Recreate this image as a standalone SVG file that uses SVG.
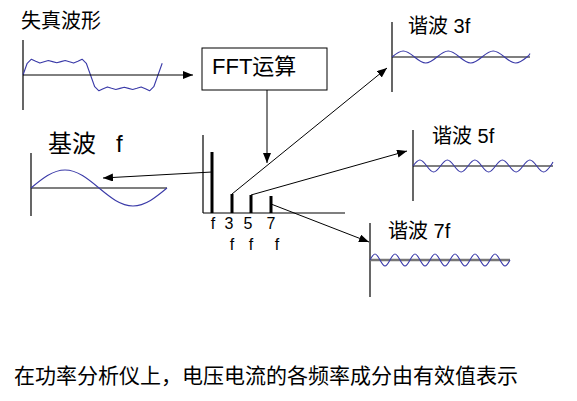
<svg xmlns="http://www.w3.org/2000/svg" width="577" height="401" viewBox="0 0 577 401">
<style>
text{font-family:"Liberation Sans","Noto Sans CJK SC",sans-serif;fill:#000}
.ax{stroke:#000;stroke-width:1.2;fill:none}
.wave{stroke:#3a3aa8;stroke-width:1.1;fill:none;stroke-linejoin:round}
.con{stroke:#000;stroke-width:1;fill:none;marker-end:url(#ah)}
.bar{stroke:#000;stroke-width:3}
</style>
<defs>
<marker id="ah" markerUnits="userSpaceOnUse" markerWidth="11" markerHeight="9" refX="10" refY="4" orient="auto">
<path d="M0,0 L10,4 L0,8 z" fill="#000"/>
</marker>
</defs>
<rect width="577" height="401" fill="#fff"/>

<g id="distorted">
<text x="21" y="28" font-size="20">失真波形</text>
<line class="ax" x1="23" y1="40" x2="23" y2="110"/>
<polyline class="wave" points="23,75 27.2,63.3 31.4,59.2 35.7,61.3 39.9,63.1 44.1,61.7 48.3,60.5 52.5,61.6 56.8,62.7 61,61.6 65.2,60.5 69.4,61.7 73.6,63.1 77.9,61.3 82.1,59.2 86.3,63.3 90.5,75 94.7,86.7 98.9,90.8 103.2,88.7 107.4,86.9 111.6,88.3 115.8,89.5 120,88.4 124.3,87.3 128.5,88.4 132.7,89.5 136.9,88.3 141.1,86.9 145.4,88.7 149.6,90.8 153.8,86.7 158,75 162.2,63.3"/>
</g>

<g id="fft">
<rect x="202" y="48" width="125" height="42" fill="#fff" stroke="#000" stroke-width="1"/>
<text x="212" y="74" font-size="22">FFT运算</text>
</g>

<g id="spectrum">
<line class="ax" x1="203" y1="135" x2="203" y2="213"/>
<line class="ax" x1="203" y1="213" x2="345" y2="213"/>
<line class="bar" x1="212" y1="152" x2="212" y2="213"/>
<line class="bar" x1="232" y1="194" x2="232" y2="213"/>
<line class="bar" x1="251" y1="195" x2="251" y2="213"/>
<line class="bar" x1="271" y1="196" x2="271" y2="213"/>
<g font-size="16" text-anchor="middle">
<text x="213" y="229">f</text>
<text x="229" y="229">3</text>
<text x="248" y="229">5</text>
<text x="271" y="229">7</text>
<text x="232" y="250">f</text>
<text x="251" y="250">f</text>
<text x="277" y="250">f</text>
</g>
</g>

<g id="fundamental">
<text x="48" y="152" font-size="24">基波<tspan x="116">f</tspan></text>
<line class="ax" x1="31" y1="153" x2="31" y2="216"/>
<line class="ax" x1="31" y1="188" x2="167" y2="188"/>
<path class="wave" d="M31,188 c11.09,-9.22 21.7,-18 34,-18 s22.91,8.78 34,18 s21.7,18 34,18 s22.91,-8.78 34,-18"/>
</g>

<g id="h3">
<text x="408" y="33" font-size="20">谐波 3f</text>
<line class="ax" x1="392" y1="22" x2="392" y2="92"/>
<line class="ax" x1="392" y1="57" x2="530" y2="57"/>
<path class="wave" d="M392,57 c3.67,-3.07 7.18,-6 11.25,-6 s7.58,2.93 11.25,6 s7.18,6 11.25,6 s7.58,-2.93 11.25,-6 s7.18,-6 11.25,-6 s7.58,2.93 11.25,6 s7.18,6 11.25,6 s7.58,-2.93 11.25,-6 s7.18,-6 11.25,-6 s7.58,2.93 11.25,6 s7.18,6 11.25,6 s7.58,-2.93 11.25,-6 s2.2,-2.4 3,-3.5"/>
</g>

<g id="h5">
<text x="432" y="143" font-size="20">谐波 5f</text>
<line class="ax" x1="413" y1="130" x2="413" y2="201"/>
<line class="ax" x1="413" y1="166" x2="553" y2="166"/>
<path class="wave" d="M413,166 c2.24,-3.07 4.39,-6 6.875,-6 s4.63,2.93 6.875,6 s4.39,6 6.875,6 s4.63,-2.93 6.875,-6 s4.39,-6 6.875,-6 s4.63,2.93 6.875,6 s4.39,6 6.875,6 s4.63,-2.93 6.875,-6 s4.39,-6 6.875,-6 s4.63,2.93 6.875,6 s4.39,6 6.875,6 s4.63,-2.93 6.875,-6 s4.39,-6 6.875,-6 s4.63,2.93 6.875,6 s4.39,6 6.875,6 s4.63,-2.93 6.875,-6 s4.39,-6 6.875,-6 s4.63,2.93 6.875,6 s4.39,6 6.875,6 s4.63,-2.93 6.875,-6 s1.6,-2.6 2.5,-4"/>
</g>

<g id="h7">
<text x="388" y="238" font-size="20">谐波 7f</text>
<line class="ax" x1="370" y1="223" x2="370" y2="297"/>
<line x1="370" y1="260" x2="510" y2="260" stroke="#777" stroke-width="2.5"/>
<path class="wave" d="M370,260 c1.63,-3.07 3.19,-6 5,-6 s3.37,2.93 5,6 s3.19,6 5,6 s3.37,-2.93 5,-6 s3.19,-6 5,-6 s3.37,2.93 5,6 s3.19,6 5,6 s3.37,-2.93 5,-6 s3.19,-6 5,-6 s3.37,2.93 5,6 s3.19,6 5,6 s3.37,-2.93 5,-6 s3.19,-6 5,-6 s3.37,2.93 5,6 s3.19,6 5,6 s3.37,-2.93 5,-6 s3.19,-6 5,-6 s3.37,2.93 5,6 s3.19,6 5,6 s3.37,-2.93 5,-6 s3.19,-6 5,-6 s3.37,2.93 5,6 s3.19,6 5,6 s3.37,-2.93 5,-6 s3.19,-6 5,-6 s3.37,2.93 5,6 s3.19,6 5,6 s3.37,-2.93 5,-6"/>
</g>

<g id="connectors">
<line class="con" x1="23" y1="75" x2="193" y2="75"/>
<line class="con" x1="267" y1="90" x2="267" y2="163"/>
<line class="con" x1="212" y1="172" x2="103" y2="178"/>
<line class="con" x1="232" y1="194" x2="387" y2="68"/>
<line class="con" x1="251" y1="195" x2="407" y2="151"/>
<line class="con" x1="271" y1="204" x2="369" y2="242"/>
</g>

<g id="caption">
<text x="14" y="383" font-size="21">在功率分析仪上，电压电流的各频率成分由有效值表示</text>
</g>
</svg>
